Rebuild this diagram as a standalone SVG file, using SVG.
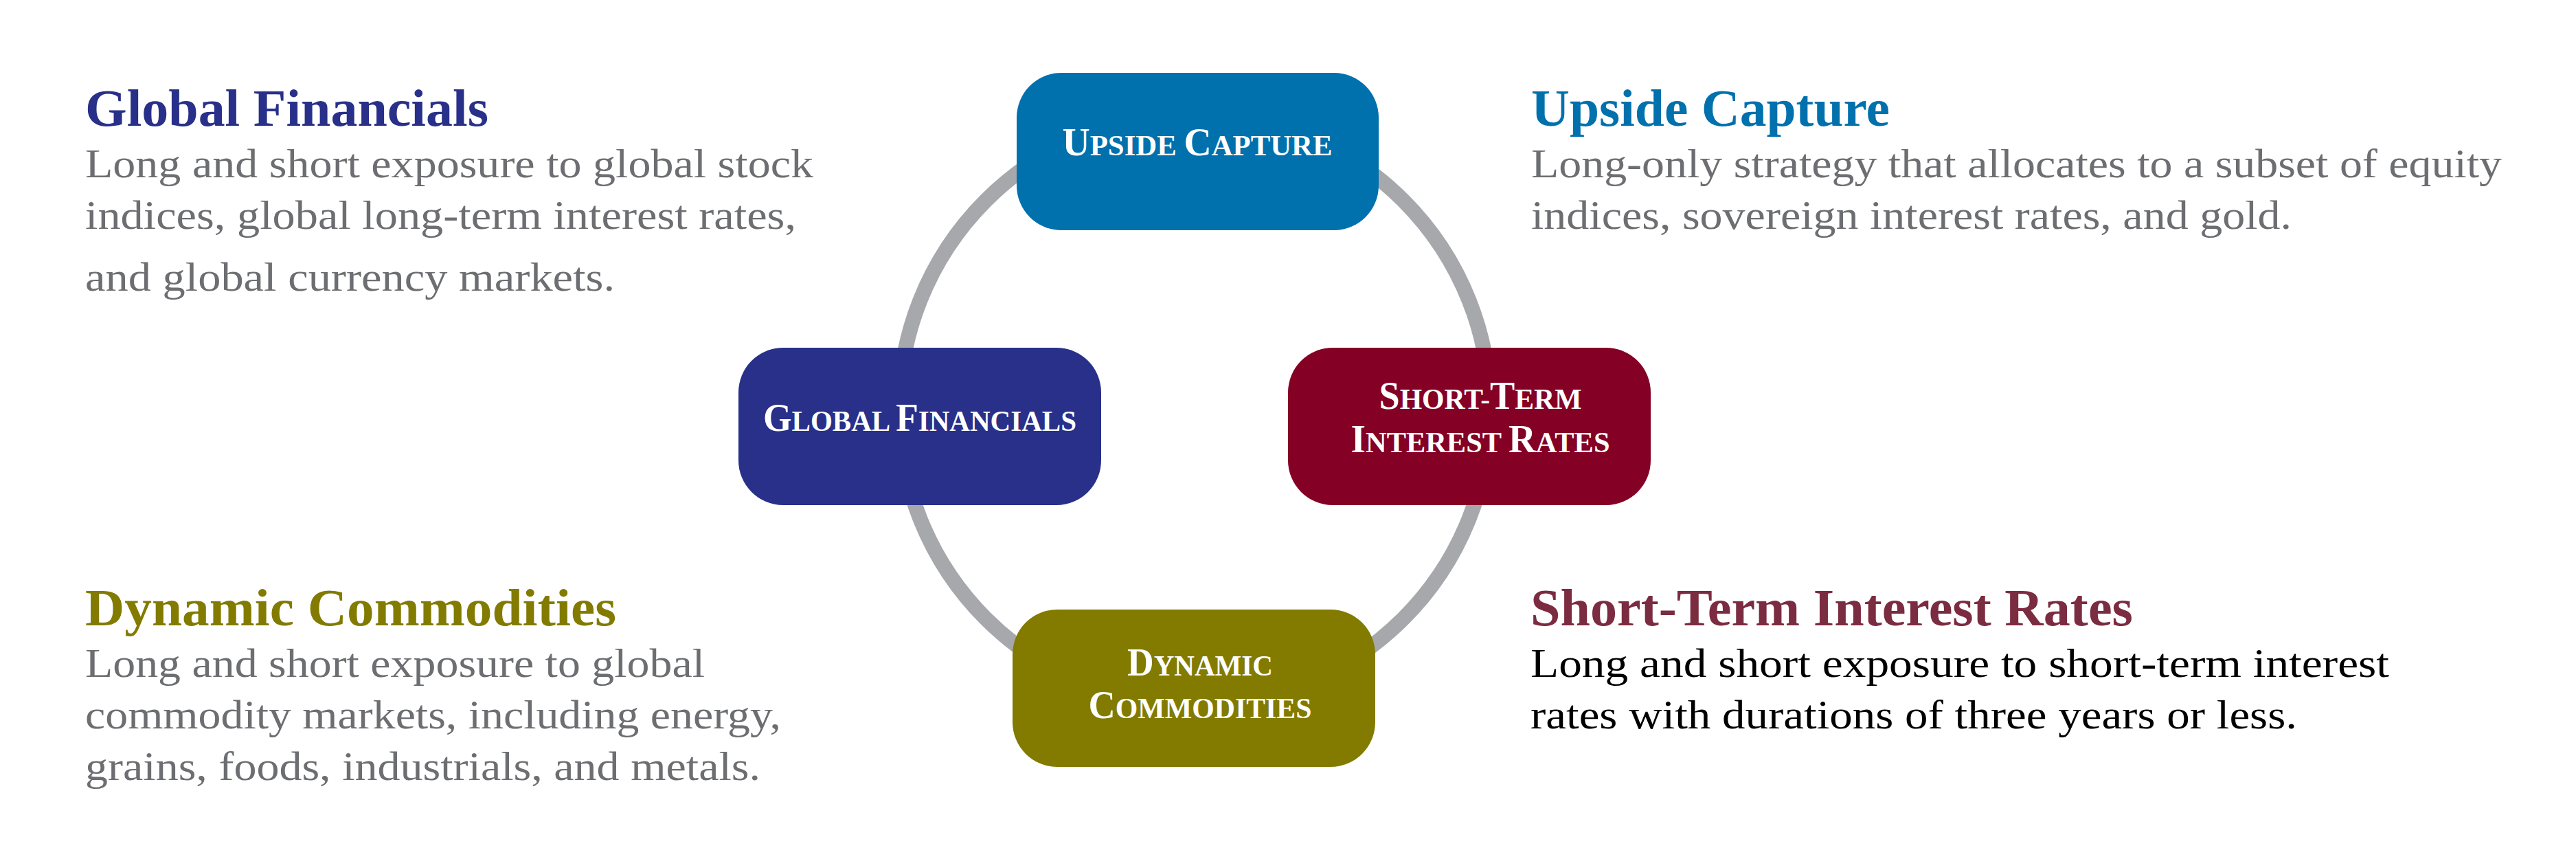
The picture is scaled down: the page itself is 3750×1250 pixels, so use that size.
<svg xmlns="http://www.w3.org/2000/svg" width="3750" height="1250" viewBox="0 0 3750 1250">
<style>
.box{stroke:none}
.lbl{font-family:"Liberation Serif","Times New Roman",serif;font-weight:bold;fill:#ffffff;font-size:43px;text-anchor:middle}
.cap{font-size:56px}
.head{font-family:"Liberation Serif","Times New Roman",serif;font-weight:bold;font-size:77px}
.body{font-family:"Liberation Serif","Times New Roman",serif;font-size:60px;fill:#6D6E71}
.body.dark{fill:#000000}
</style>
<rect width="3750" height="1250" fill="#ffffff"/>
<g id="connectors">
<circle cx="1739" cy="596" r="430" fill="none" stroke="#A7A8AC" stroke-width="22"/>
</g>
<g id="node-upside">
<rect class="box" x="1480" y="106" width="527" height="229" rx="65" fill="#0071AD"/>
<text class="lbl" x="1743" y="226" textLength="393" lengthAdjust="spacingAndGlyphs"><tspan class="cap">U</tspan>PSIDE <tspan class="cap">C</tspan>APTURE</text>
</g>
<g id="node-global">
<rect class="box" x="1075" y="506" width="528" height="229" rx="65" fill="#283089"/>
<text class="lbl" x="1339" y="627" textLength="456" lengthAdjust="spacingAndGlyphs"><tspan class="cap">G</tspan>LOBAL <tspan class="cap">F</tspan>INANCIALS</text>
</g>
<g id="node-short">
<rect class="box" x="1875" y="506" width="528" height="229" rx="65" fill="#840025"/>
<text class="lbl" x="2155" y="595" textLength="295" lengthAdjust="spacingAndGlyphs"><tspan class="cap">S</tspan>HORT-<tspan class="cap">T</tspan>ERM</text>
<text class="lbl" x="2155" y="658" textLength="377" lengthAdjust="spacingAndGlyphs"><tspan class="cap">I</tspan>NTEREST <tspan class="cap">R</tspan>ATES</text>
</g>
<g id="node-dynamic">
<rect class="box" x="1474" y="887" width="528" height="229" rx="65" fill="#827B00"/>
<text class="lbl" x="1747" y="983" textLength="212" lengthAdjust="spacingAndGlyphs"><tspan class="cap">D</tspan>YNAMIC</text>
<text class="lbl" x="1747" y="1045" textLength="325" lengthAdjust="spacingAndGlyphs"><tspan class="cap">C</tspan>OMMODITIES</text>
</g>
<g id="desc-global">
<text class="head" x="124" y="183" fill="#283089" textLength="587" lengthAdjust="spacingAndGlyphs">Global Financials</text>
<text class="body" x="124" y="258" textLength="1060" lengthAdjust="spacingAndGlyphs">Long and short exposure to global stock</text>
<text class="body" x="124" y="333" textLength="1035" lengthAdjust="spacingAndGlyphs">indices, global long-term interest rates,</text>
<text class="body" x="124" y="423" textLength="771" lengthAdjust="spacingAndGlyphs">and global currency markets.</text>
</g>
<g id="desc-upside">
<text class="head" x="2229" y="183" fill="#0071AD" textLength="522" lengthAdjust="spacingAndGlyphs">Upside Capture</text>
<text class="body" x="2229" y="258" textLength="1413" lengthAdjust="spacingAndGlyphs">Long-only strategy that allocates to a subset of equity</text>
<text class="body" x="2229" y="333" textLength="1107" lengthAdjust="spacingAndGlyphs">indices, sovereign interest rates, and gold.</text>
</g>
<g id="desc-dynamic">
<text class="head" x="124" y="910" fill="#827B00" textLength="773" lengthAdjust="spacingAndGlyphs">Dynamic Commodities</text>
<text class="body" x="124" y="985" textLength="902" lengthAdjust="spacingAndGlyphs">Long and short exposure to global</text>
<text class="body" x="124" y="1060" textLength="1013" lengthAdjust="spacingAndGlyphs">commodity markets, including energy,</text>
<text class="body" x="124" y="1135" textLength="983" lengthAdjust="spacingAndGlyphs">grains, foods, industrials, and metals.</text>
</g>
<g id="desc-short">
<text class="head" x="2228" y="910" fill="#7B2C40" textLength="877" lengthAdjust="spacingAndGlyphs">Short-Term Interest Rates</text>
<text class="body dark" x="2228" y="985" textLength="1250" lengthAdjust="spacingAndGlyphs">Long and short exposure to short-term interest</text>
<text class="body dark" x="2228" y="1060" textLength="1116" lengthAdjust="spacingAndGlyphs">rates with durations of three years or less.</text>
</g>
</svg>
